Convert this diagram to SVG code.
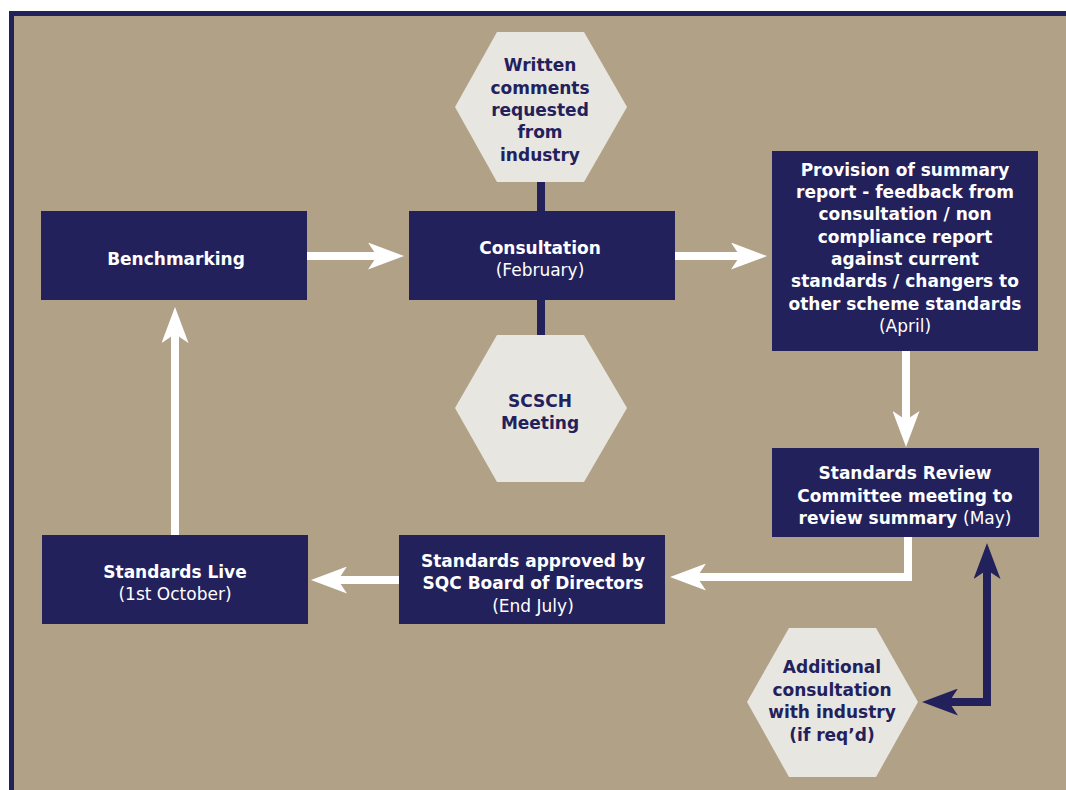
<svg xmlns="http://www.w3.org/2000/svg" width="1066" height="790" viewBox="0 0 1066 790">
<style>
.box{fill:#23215b}
.hex{fill:#e8e6e1}
.w{stroke:#ffffff;stroke-width:8;fill:none;stroke-linejoin:miter}
.n{stroke:#23215b;stroke-width:8;fill:none;stroke-linejoin:miter}
.stem{fill:#23215b}
text{font-family:"DejaVu Sans","Liberation Sans",sans-serif;font-size:17px;text-anchor:middle}
.b{font-weight:bold}
.lt{fill:#ffffff}
.dk{fill:#23215b}
.rg{font-weight:normal}
</style>
<defs>
<marker id="aw" markerUnits="userSpaceOnUse" viewBox="0 0 36 27" refX="9" refY="13.5" markerWidth="36" markerHeight="27" orient="auto-start-reverse">
<path d="M0,0 L36,13.5 L0,27 L9,13.5 Z" fill="#ffffff"/>
</marker>
<marker id="an" markerUnits="userSpaceOnUse" viewBox="0 0 36 27" refX="9" refY="13.5" markerWidth="36" markerHeight="27" orient="auto-start-reverse">
<path d="M0,0 L36,13.5 L0,27 L9,13.5 Z" fill="#23215b"/>
</marker>
</defs>
<rect x="0" y="0" width="1066" height="790" fill="#ffffff"/>
<rect x="11.5" y="13.5" width="1100" height="800" fill="#b1a287" stroke="#23215b" stroke-width="5"/>

<g id="connectors">
<rect class="stem" x="537" y="180" width="8" height="33"/>
<rect class="stem" x="537" y="298" width="8" height="39"/>
<path class="w" d="M307,256 L377,256" marker-end="url(#aw)"/>
<path class="w" d="M675,256 L740,256" marker-end="url(#aw)"/>
<path class="w" d="M906,351 L906,420" marker-end="url(#aw)"/>
<path class="w" d="M908,537 L908,577 L697,577" marker-end="url(#aw)"/>
<path class="w" d="M399,580 L338,580" marker-end="url(#aw)"/>
<path class="w" d="M175,535 L175,334" marker-end="url(#aw)"/>
<path class="n" d="M949,702 L987,702 L987,570" marker-start="url(#an)" marker-end="url(#an)"/>
</g>

<g id="benchmarking">
<rect class="box" x="41" y="211" width="266" height="89"/>
<text class="b lt" x="176" y="265">Benchmarking</text>
</g>

<g id="consultation">
<rect class="box" x="409" y="211" width="266" height="89"/>
<text class="b lt" x="540" y="254">Consultation</text>
<text class="rg lt" x="540" y="276">(February)</text>
</g>

<g id="written-comments">
<polygon class="hex" points="455,107 497,32 584,32 627,107 584,182 497,182"/>
<text class="b dk" x="540" y="71">Written</text>
<text class="b dk" x="540" y="94">comments</text>
<text class="b dk" x="540" y="116">requested</text>
<text class="b dk" x="540" y="138">from</text>
<text class="b dk" x="540" y="161">industry</text>
</g>

<g id="scsch">
<polygon class="hex" points="455,408 497,335 584,335 627,408 584,482 497,482"/>
<text class="b dk" x="540" y="407">SCSCH</text>
<text class="b dk" x="540" y="429">Meeting</text>
</g>

<g id="provision">
<rect class="box" x="772" y="151" width="266" height="200"/>
<text class="b lt" x="905" y="176">Provision of summary</text>
<text class="b lt" x="905" y="198">report - feedback from</text>
<text class="b lt" x="905" y="220">consultation / non</text>
<text class="b lt" x="905" y="243">compliance report</text>
<text class="b lt" x="905" y="265">against current</text>
<text class="b lt" x="905" y="287">standards / changers to</text>
<text class="b lt" x="905" y="310">other scheme standards</text>
<text class="rg lt" x="905" y="332">(April)</text>
</g>

<g id="standards-review">
<rect class="box" x="772" y="448" width="267" height="89"/>
<text class="b lt" x="905" y="479">Standards Review</text>
<text class="b lt" x="905" y="502">Committee meeting to</text>
<text class="b lt" x="905" y="524">review summary <tspan class="rg">(May)</tspan></text>
</g>

<g id="standards-approved">
<rect class="box" x="399" y="535" width="266" height="89"/>
<text class="b lt" x="533" y="567">Standards approved by</text>
<text class="b lt" x="533" y="589">SQC Board of Directors</text>
<text class="rg lt" x="533" y="612">(End July)</text>
</g>

<g id="standards-live">
<rect class="box" x="42" y="535" width="266" height="89"/>
<text class="b lt" x="175" y="578">Standards Live</text>
<text class="rg lt" x="175" y="600">(1st October)</text>
</g>

<g id="additional-consultation">
<polygon class="hex" points="747,702 789,628 876,628 918,702 876,777 789,777"/>
<text class="b dk" x="832" y="673">Additional</text>
<text class="b dk" x="832" y="696">consultation</text>
<text class="b dk" x="832" y="718">with industry</text>
<text class="b dk" x="832" y="741">(if req’d)</text>
</g>
</svg>
